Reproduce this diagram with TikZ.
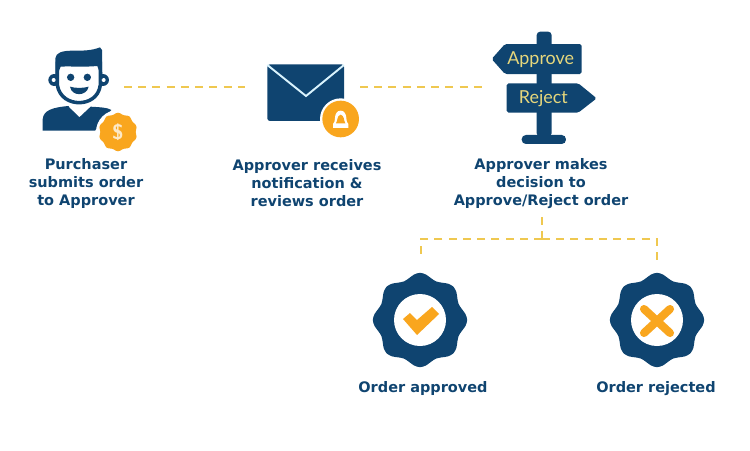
\documentclass[tikz,border=0pt]{standalone}
\usepackage{fontspec}
\setmainfont{DejaVu Sans}
\newfontfamily\signfont{Lato}
\definecolor{navy}{HTML}{0F4470}
\definecolor{amber}{HTML}{F9A61E}
\definecolor{dashgold}{HTML}{EFC850}
\definecolor{signtext}{HTML}{E6D77C}
\newcommand{\scallop}[3]{plot[smooth cycle,domain=0:352.5,samples=48] (\x:{#1+#2*cos(#3*(\x-90))})}
\begin{document}
\begin{tikzpicture}[x=0.02cm,y=-0.02cm,
  every node/.style={font=\bfseries\fontsize{8.25}{10.2}\selectfont,text=navy,align=center,inner sep=0pt},
  link/.style={dashgold,line width=0.85pt,dash pattern=on 4.5pt off 3.6pt},
  signlabel/.style={font=\signfont\fontsize{10.2}{12}\selectfont,text=signtext}]
\useasboundingbox (0,0) rectangle (750,450);
\coordinate (sendout) at (124,87);
\coordinate (mailin) at (245,87);
\coordinate (mailout) at (360,87);
\coordinate (signin) at (482,87);
\coordinate (split) at (542,217);
\coordinate (splitmid) at (542,239);
\coordinate (yescorner) at (421,239);
\coordinate (nocorner) at (657,239);
\coordinate (yesin) at (421,260);
\coordinate (noin) at (657,260);
\draw[link] (sendout) -- (mailin);
\draw[link] (mailout) -- (signin);
\draw[link] (split) -- (splitmid);
\draw[link] (splitmid) -- (yescorner) -- (yesin);
\draw[link] (splitmid) -- (nocorner) -- (noin);
% purchaser
\begin{scope}[shift={(20,30)},x=0.00667cm,y=-0.00667cm]
\fill[navy] (68,302) -- (68,268) .. controls (70,240) and (100,232) .. (145,228) -- (178,262) -- (212,230) .. controls (240,232) and (262,232) .. (274,240) -- (225,302) -- cycle;
\fill[white] (148,215) -- (148,232) -- (178,258) -- (208,232) -- (208,215) -- cycle;
\fill[navy] (103,150) circle (18);
\fill[navy] (249,150) circle (18);
\filldraw[fill=white,draw=navy,line width=2pt] (112,100) -- (112,165) .. controls (118,203) and (150,218) .. (177,218) .. controls (205,218) and (236,203) .. (241,165) -- (241,100) -- cycle;
\fill[white] (101,150) circle (6);
\fill[white] (251,150) circle (6);
\fill[navy] (106,148) -- (106,85) .. controls (108,68) and (125,62) .. (160,62) .. controls (190,62) and (215,62) .. (240,52) -- (246,60) -- (247,148) -- (232,108) .. controls (190,112) and (150,108) .. (122,110) -- cycle;
\fill[navy] (152,142) circle (11);
\fill[navy] (202,142) circle (11);
\fill[navy] (150,170) .. controls (165,175) and (190,175) .. (206,170) .. controls (200,200) and (155,200) .. (150,170) -- cycle;
\end{scope}
\begin{scope}[shift={(118,132)}]
\fill[white] circle (22);
\fill[amber] \scallop{18.5}{0.8}{10};
\node[font=\sffamily\bfseries\fontsize{12}{12}\selectfont,text=white!75!amber] (coinsign) at (0,0) {\$};
\end{scope}
% envelope
\begin{scope}[shift={(250,20)},x=0.00667cm,y=-0.00667cm]
\fill[navy,rounded corners=1.5pt] (52,133) rectangle (282,303);
\draw[white!85!cyan,line width=1.1pt] (52,135) -- (168,228) -- (282,135);
\fill[white] (272,297) circle (62);
\fill[amber] (272,297) circle (55);
\fill[white] (249,324) -- (249,312) .. controls (258,306) and (252,285) .. (260,278) .. controls (264,270) and (280,270) .. (284,278) .. controls (292,285) and (286,306) .. (295,312) -- (295,324) -- cycle;
\fill[amber] (258,310) .. controls (264,300) and (260,288) .. (272,284) .. controls (284,288) and (280,300) .. (286,310) -- cycle;
\end{scope}
% signpost
\begin{scope}[shift={(250,20)},x=0.00667cm,y=-0.00667cm]
\fill[navy,rounded corners=2pt] (860,350) -- (860,35) -- (905,35) -- (905,350) -- cycle;
\fill[navy,rounded corners=2.4pt] (815,345) rectangle (948,372);
\fill[navy,rounded corners=1pt] (725,117) -- (765,72) -- (995,72) -- (995,162) -- (765,162) -- cycle;
\fill[navy,rounded corners=1pt] (770,190) -- (985,190) -- (1040,235) -- (985,278) -- (770,278) -- cycle;
\node[signlabel] (approvesign) at (872,118) {Approve};
\node[signlabel] (rejectsign) at (880,236) {Reject};
\end{scope}
% outcome badges
\begin{scope}[shift={(420,320)}]
\fill[navy] \scallop{44.5}{2.7}{8};
\fill[white] circle (26);
\fill[amber] (-17,-1) -- (-10,-7) -- (-3,0) -- (12,-13) -- (19,-6) -- (-3,15) -- cycle;
\end{scope}
\begin{scope}[shift={(657,320)}]
\fill[navy] \scallop{44.5}{2.7}{8};
\fill[white] circle (26);
\draw[amber,line width=4.6pt,line cap=round] (-13,-11) -- (13,13);
\draw[amber,line width=4.6pt,line cap=round] (13,-11) -- (-13,13);
\end{scope}
\node (purchasertext) at (86,183.5) {Purchaser\\submits order\\to Approver};
\node (approvertext) at (307,183.5) {Approver receives\\notification \&\\reviews order};
\node (decisiontext) at (541,183.5) {Approver makes\\decision to\\Approve/Reject order};
\node[anchor=base] (approvedtext) at (423,392) {Order approved};
\node[anchor=base] (rejectedtext) at (656,392) {Order rejected};
\end{tikzpicture}
\end{document}
